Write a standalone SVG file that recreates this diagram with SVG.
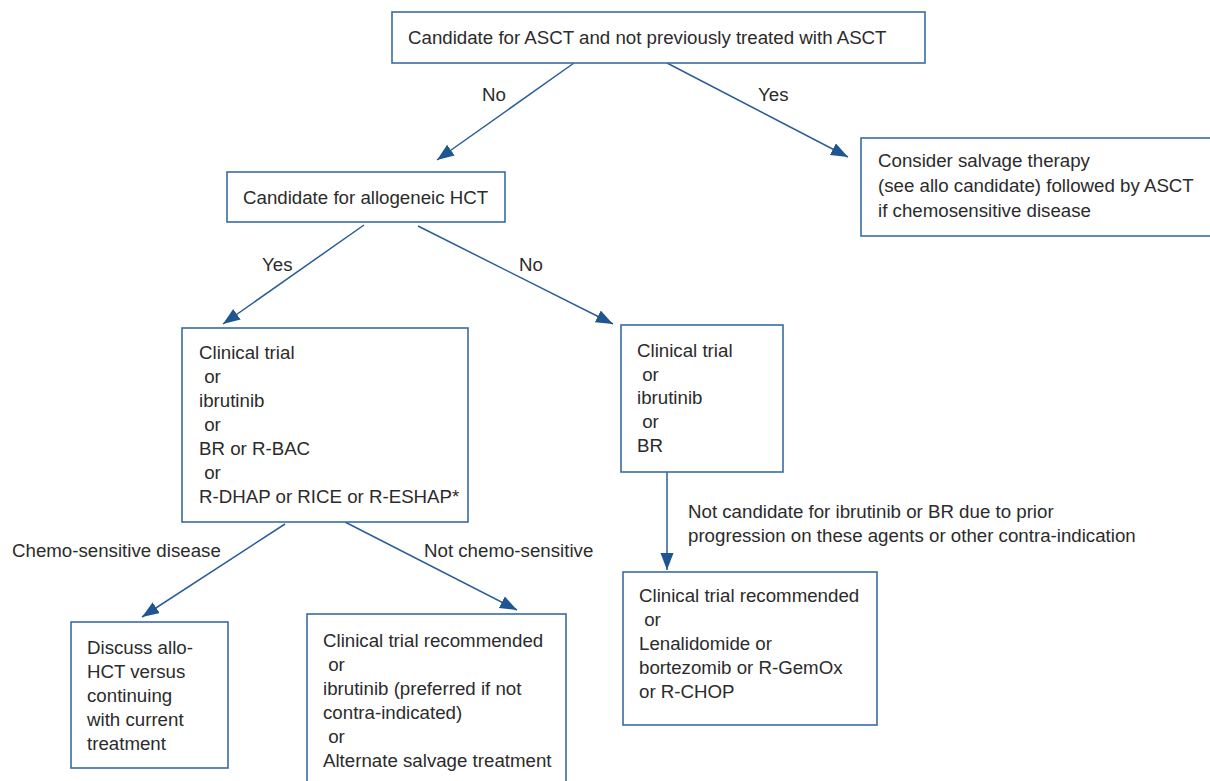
<svg xmlns="http://www.w3.org/2000/svg" width="1210" height="781" viewBox="0 0 1210 781">
<style>
  .box { fill: #ffffff; stroke: #3a6ca3; stroke-width: 1.6; }
  .t { font-family: "Liberation Sans", Arial, Helvetica, sans-serif; font-size: 18.7px; fill: #2b2b2b; }
  .ln { stroke: #2a5d98; stroke-width: 1.5; fill: none; marker-end: url(#ah); }
</style>
<defs>
  <marker id="ah" markerUnits="userSpaceOnUse" markerWidth="18" markerHeight="14" refX="17" refY="6.5" orient="auto">
    <path d="M0,0 L17,6.5 L0,13 z" fill="#1f5590"/>
  </marker>
</defs>
<rect width="1210" height="781" fill="#ffffff"/>

<g id="connectors">
  <line class="ln" x1="574" y1="63" x2="437" y2="160"/>
  <line class="ln" x1="667" y1="63" x2="848" y2="157"/>
  <line class="ln" x1="364" y1="225" x2="223" y2="324"/>
  <line class="ln" x1="418" y1="226" x2="613" y2="324"/>
  <line class="ln" x1="667" y1="472" x2="667" y2="570"/>
  <line class="ln" x1="285" y1="524" x2="142" y2="617"/>
  <line class="ln" x1="345" y1="522" x2="517" y2="610"/>
  <text class="t" x="482" y="101">No</text>
  <text class="t" x="758" y="101">Yes</text>
  <text class="t" x="262" y="271">Yes</text>
  <text class="t" x="519" y="271">No</text>
  <text class="t" x="12" y="557">Chemo-sensitive disease</text>
  <text class="t" x="424" y="557">Not chemo-sensitive</text>
  <text class="t" x="688" y="518">Not candidate for ibrutinib or BR due to prior</text>
  <text class="t" x="688" y="542">progression on these agents or other contra-indication</text>
</g>

<g id="n-top">
  <rect class="box" x="392" y="12" width="533" height="51"/>
  <text class="t" x="408" y="44">Candidate for ASCT and not previously treated with ASCT</text>
</g>

<g id="n-salvage">
  <rect class="box" x="861" y="138" width="360" height="98"/>
  <text class="t" x="878" y="167">Consider salvage therapy</text>
  <text class="t" x="878" y="192">(see allo candidate) followed by ASCT</text>
  <text class="t" x="878" y="217">if chemosensitive disease</text>
</g>

<g id="n-allo">
  <rect class="box" x="227" y="172" width="278" height="50"/>
  <text class="t" x="243" y="204">Candidate for allogeneic HCT</text>
</g>

<g id="n-allo-yes">
  <rect class="box" x="182" y="328" width="286" height="194"/>
  <text class="t" x="199" y="359">Clinical trial</text>
  <text class="t" x="199" y="383" xml:space="preserve"> or</text>
  <text class="t" x="199" y="407">ibrutinib</text>
  <text class="t" x="199" y="431" xml:space="preserve"> or</text>
  <text class="t" x="199" y="455">BR or R-BAC</text>
  <text class="t" x="199" y="479" xml:space="preserve"> or</text>
  <text class="t" x="199" y="503">R-DHAP or RICE or R-ESHAP*</text>
</g>

<g id="n-allo-no">
  <rect class="box" x="621" y="325" width="162" height="147"/>
  <text class="t" x="637" y="357">Clinical trial</text>
  <text class="t" x="637" y="381" xml:space="preserve"> or</text>
  <text class="t" x="637" y="404">ibrutinib</text>
  <text class="t" x="637" y="428" xml:space="preserve"> or</text>
  <text class="t" x="637" y="452">BR</text>
</g>

<g id="n-discuss">
  <rect class="box" x="71" y="622" width="157" height="146"/>
  <text class="t" x="87" y="654">Discuss allo-</text>
  <text class="t" x="87" y="678">HCT versus</text>
  <text class="t" x="87" y="702">continuing</text>
  <text class="t" x="87" y="726">with current</text>
  <text class="t" x="87" y="750">treatment</text>
</g>

<g id="n-notchemo">
  <rect class="box" x="307" y="614" width="259" height="180"/>
  <text class="t" x="323" y="647">Clinical trial recommended</text>
  <text class="t" x="323" y="671" xml:space="preserve"> or</text>
  <text class="t" x="323" y="695">ibrutinib (preferred if not</text>
  <text class="t" x="323" y="719">contra-indicated)</text>
  <text class="t" x="323" y="743" xml:space="preserve"> or</text>
  <text class="t" x="323" y="767">Alternate salvage treatment</text>
</g>

<g id="n-notcand">
  <rect class="box" x="623" y="572" width="254" height="153"/>
  <text class="t" x="639" y="602">Clinical trial recommended</text>
  <text class="t" x="639" y="626" xml:space="preserve"> or</text>
  <text class="t" x="639" y="650">Lenalidomide or</text>
  <text class="t" x="639" y="674">bortezomib or R-GemOx</text>
  <text class="t" x="639" y="698">or R-CHOP</text>
</g>
</svg>
